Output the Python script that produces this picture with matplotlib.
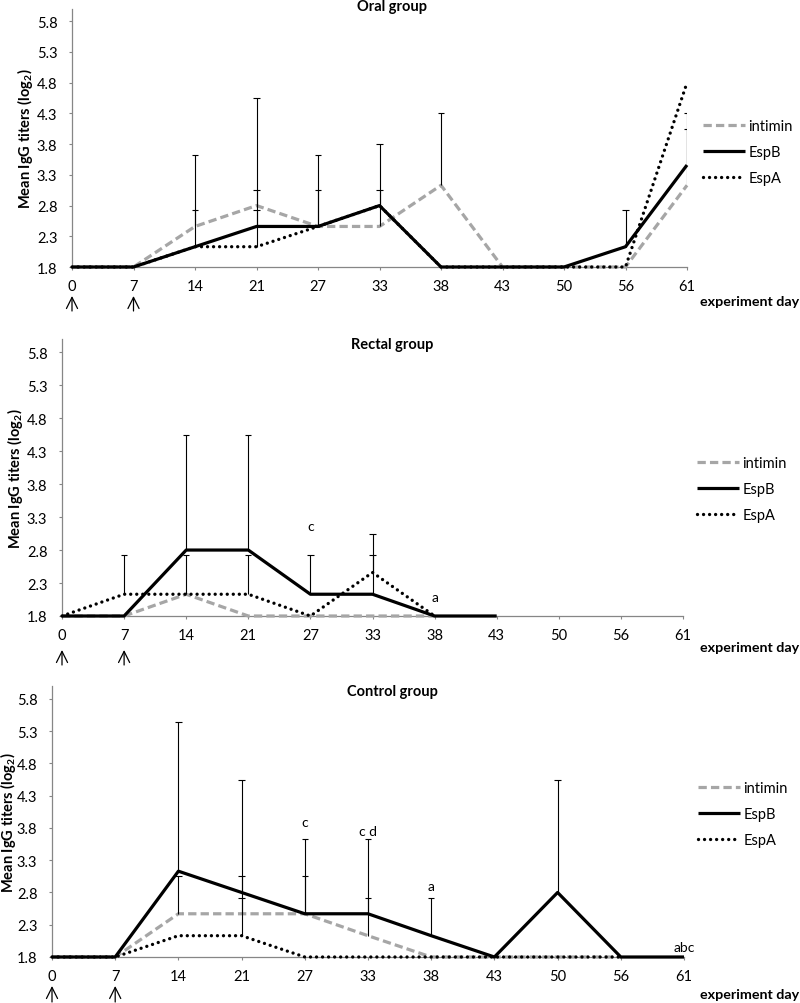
import numpy as np
import matplotlib
matplotlib.use('Agg')
import matplotlib.pyplot as plt

plt.rcParams['font.family'] = ['Lato', 'DejaVu Sans']
plt.rcParams['font.size'] = 10
plt.rcParams['mathtext.fontset'] = 'custom'
plt.rcParams['mathtext.rm'] = 'Lato'
plt.rcParams['mathtext.bf'] = 'Lato:bold'

nan = np.nan

# experiment days (categorical axis)
days = ['0', '7', '14', '21', '27', '33', '38', '43', '50', '56', '61']
yticks = [1.8, 2.3, 2.8, 3.3, 3.8, 4.3, 4.8, 5.3, 5.8]

# Oral group
oral_intimin = [1.8, 1.8, 2.46, 2.8, 2.46, 2.46, 3.13, 1.8, 1.8, 1.8, 3.13]
oral_espb = [1.8, 1.8, 2.13, 2.46, 2.46, 2.8, 1.8, 1.8, 1.8, 2.13, 3.46]
oral_espa = [1.8, 1.8, 2.13, 2.13, 2.46, 2.8, 1.8, 1.8, 1.8, 1.8, 4.8]
# top of the (upward) error bars
oral_intimin_top = [nan, nan, 3.63, 4.55, 3.63, 3.8, 4.3, nan, nan, nan, 4.3]
oral_espb_top = [nan, nan, 2.72, 3.05, 3.05, 3.05, nan, nan, nan, 2.72, 4.04]
oral_espa_top = [nan, nan, nan, 2.72, nan, nan, nan, nan, nan, nan, nan]
oral_notes = []

# Rectal group
rect_intimin = [1.8, 1.8, 2.13, 1.8, 1.8, 1.8, 1.8, nan, nan, nan, nan]
rect_espb = [1.8, 1.8, 2.8, 2.8, 2.13, 2.13, 1.8, 1.8, nan, nan, nan]
rect_espa = [1.8, 2.13, 2.13, 2.13, 1.8, 2.46, 1.8, nan, nan, nan, nan]
rect_intimin_top = [nan] * 11
rect_espb_top = [nan, nan, 4.55, 4.55, 2.72, 2.72, nan, nan, nan, nan, nan]
rect_espa_top = [nan, 2.72, 2.72, 2.72, nan, 3.05, nan, nan, nan, nan, nan]
rect_notes = [('c', 4, 3.17), ('a', 6, 2.09)]

# Control group
ctrl_intimin = [1.8, 1.8, 2.47, 2.47, 2.47, 2.13, 1.8, 1.8, 1.8, 1.8, nan]
ctrl_espb = [1.8, 1.8, 3.13, 2.8, 2.47, 2.47, 2.13, 1.8, 2.8, 1.8, 1.8]
ctrl_espa = [1.8, 1.8, 2.13, 2.13, 1.8, 1.8, 1.8, 1.8, 1.8, 1.8, nan]
ctrl_intimin_top = [nan, nan, 3.05, 3.05, 3.05, 2.72, nan, nan, nan, nan, nan]
ctrl_espb_top = [nan, nan, 5.44, 4.55, 3.63, 3.63, 2.72, nan, 4.55, nan, nan]
ctrl_espa_top = [nan, nan, nan, 2.72, nan, nan, nan, nan, nan, nan, nan]
ctrl_notes = [('c', 4, 3.89), ('c d', 5, 3.76), ('a', 6, 2.9), ('abc', 10, 1.96)]

groups = [
    ('Oral group', oral_intimin, oral_espb, oral_espa,
     oral_intimin_top, oral_espb_top, oral_espa_top, oral_notes),
    ('Rectal group', rect_intimin, rect_espb, rect_espa,
     rect_intimin_top, rect_espb_top, rect_espa_top, rect_notes),
    ('Control group', ctrl_intimin, ctrl_espb, ctrl_espa,
     ctrl_intimin_top, ctrl_espb_top, ctrl_espa_top, ctrl_notes),
]

W, H = 800, 1004
# axes boxes in pixels: left, right, top, bottom
boxes = [(72, 687, 10, 268), (62, 683, 340, 617), (52, 684, 687, 958)]
ylabel_x = [25, 15, 8]
title_y = [7, 345, 692]
xlabel_y = [302, 648, 995]
legend_y = [153, 490, 815]
legend_x = [703, 697, 698]
arrow_gap = [(29, 44), (34, 49), (29, 45)]

fig = plt.figure(figsize=(W / 100, H / 100), dpi=100)
axis_grey = '#868686'
x = np.arange(len(days))

for k, (title, inti, espb, espa, inti_t, espb_t, espa_t, notes) in enumerate(groups):
    l, r, t, b = boxes[k]
    ax = fig.add_axes([l / W, 1 - b / H, (r - l) / W, (b - t) / H])

    ax.plot(x, inti, color='#A6A6A6', lw=2.3, ls=(0, (2.6, 1.3)),
            label='intimin', clip_on=False, zorder=3)
    ax.plot(x, espb, color='black', lw=2.3, label='EspB',
            clip_on=False, zorder=4, solid_capstyle='butt')
    ax.plot(x, espa, color='black', lw=2.4, ls=(0, (0.01, 1.8)),
            dash_capstyle='round', label='EspA', clip_on=False, zorder=5)

    # upward error bars
    for vals, tops in [(inti, inti_t), (espb, espb_t), (espa, espa_t)]:
        v = np.array(vals, dtype=float)
        tp = np.array(tops, dtype=float)
        m = ~np.isnan(tp)
        ax.vlines(x[m], v[m], tp[m], color='black', lw=0.8, zorder=6)
        ax.hlines(tp[m], x[m] - 0.05, x[m] + 0.05, color='black', lw=0.8, zorder=6)

    for txt, i, yv in notes:
        ax.text(i, yv, txt, ha='center', va='center', fontsize=10)

    ax.set_xlim(0, len(days) - 1)
    ax.set_ylim(1.8, 6.0)
    ax.set_xticks(x)
    ax.set_xticklabels(days)
    ax.set_yticks(yticks)
    ax.set_yticklabels(['%.1f' % v for v in yticks])
    for s in ['top', 'right']:
        ax.spines[s].set_visible(False)
    for s in ['left', 'bottom']:
        ax.spines[s].set_color(axis_grey)
        ax.spines[s].set_linewidth(0.9)
    ax.tick_params(axis='both', color=axis_grey, length=2.5, width=0.8,
                   labelsize=10.5)
    ax.tick_params(axis='x', pad=6)
    ax.tick_params(axis='y', pad=8)

    # immunisation arrows under day 0 and day 7
    hpx = b - t
    g0, g1 = arrow_gap[k]
    for i in [0, 1]:
        ax.annotate('', xy=(i, -g0 / hpx), xytext=(i, -g1 / hpx),
                    xycoords=('data', 'axes fraction'),
                    textcoords=('data', 'axes fraction'),
                    arrowprops=dict(arrowstyle='->', lw=0.9, color='black',
                                    mutation_scale=20, shrinkA=0, shrinkB=0),
                    annotation_clip=False)

    ax.legend(loc='center left', frameon=False, fontsize=10.5,
              bbox_to_anchor=(legend_x[k] / W, 1 - legend_y[k] / H),
              bbox_transform=fig.transFigure, borderpad=0, borderaxespad=0,
              handlelength=2.9, handletextpad=0.2, labelspacing=0.8)

    fig.text(0.49, 1 - title_y[k] / H, title, ha='center', va='center',
             fontsize=10.5, fontweight='bold')
    fig.text(ylabel_x[k] / W, 1 - (t + b) / 2 / H,
             r'Mean IgG titers (log$_{\mathbf{2}}$)', rotation=90,
             ha='center', va='center', fontsize=10.5, fontweight='bold')
    fig.text(700 / W, 1 - xlabel_y[k] / H, 'experiment day', ha='left',
             va='center', fontsize=10.3, fontweight='bold')

fig.savefig('out.png', dpi=100)
